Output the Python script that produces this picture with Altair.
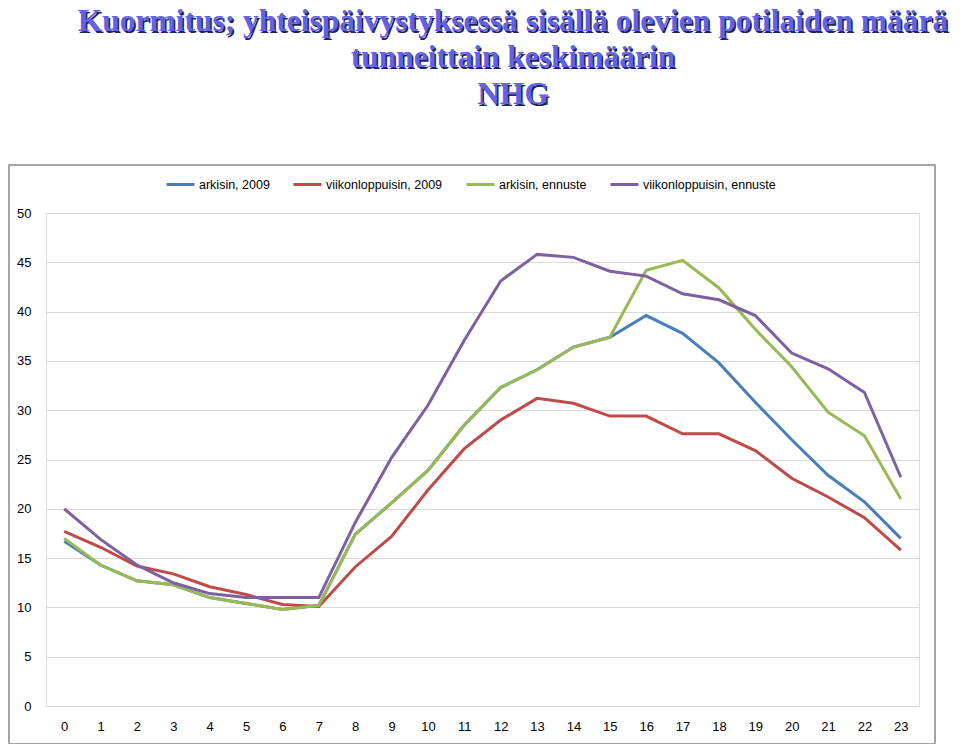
import altair as alt
import pandas as pd

hours = list(range(24))
series_names = ["arkisin, 2009", "viikonloppuisin, 2009", "arkisin, ennuste", "viikonloppuisin, ennuste"]
arkisin_2009 = [16.7, 14.3, 12.7, 12.3, 11.0, 10.4, 9.8, 10.2, 17.4, 20.6, 23.9, 28.5,
                32.3, 34.1, 36.4, 37.4, 39.6, 37.8, 34.8, 30.8, 27.0, 23.4, 20.7, 17.0]
viikonloppuisin_2009 = [17.7, 16.1, 14.2, 13.4, 12.1, 11.3, 10.3, 10.1, 14.1, 17.2, 21.9, 26.1,
                        29.0, 31.2, 30.7, 29.4, 29.4, 27.6, 27.6, 25.9, 23.1, 21.2, 19.1, 15.8]
arkisin_ennuste = [17.0, 14.3, 12.7, 12.3, 11.0, 10.4, 9.8, 10.2, 17.4, 20.6, 23.9, 28.5,
                   32.3, 34.1, 36.4, 37.4, 44.2, 45.2, 42.4, 38.2, 34.4, 29.8, 27.4, 21.0]
viikonloppuisin_ennuste = [20.0, 16.9, 14.3, 12.5, 11.4, 11.0, 11.0, 11.0, 18.6, 25.2, 30.5, 37.1,
                           43.1, 45.8, 45.5, 44.1, 43.6, 41.8, 41.2, 39.6, 35.8, 34.2, 31.8, 23.2]
colors = ["#4A7EBB", "#BE4B48", "#98B954", "#7D60A0"]
y_ticks = list(range(0, 51, 5))
title_lines = ["Kuormitus; yhteispäivystyksessä sisällä olevien potilaiden määrä",
               "tunneittain keskimäärin", "NHG"]

rows = []
for name, vals in zip(series_names, [arkisin_2009, viikonloppuisin_2009, arkisin_ennuste, viikonloppuisin_ennuste]):
    for h, v in zip(hours, vals):
        rows.append({"tunti": h, "sarja": name, "arvo": v})
df = pd.DataFrame(rows)

FONT = "Liberation Sans"

lines = alt.Chart(df).mark_line(strokeWidth=3).encode(
    x=alt.X("tunti:O", title=None, sort=hours,
            axis=alt.Axis(labelAngle=0, domain=False, ticks=False, labelPadding=14,
                          labelFont=FONT, labelFontSize=13, labelColor="#000000", grid=False)),
    y=alt.Y("arvo:Q", title=None, scale=alt.Scale(domain=[0, 50], nice=False),
            axis=alt.Axis(values=y_ticks, domain=False, ticks=False, labelPadding=15,
                          labelFont=FONT, labelFontSize=13, labelColor="#000000",
                          gridColor="#D9D9D9", gridWidth=1)),
    color=alt.Color("sarja:N", sort=series_names, title=None,
                    scale=alt.Scale(domain=series_names, range=colors),
                    legend=alt.Legend(orient="none", legendX=119, legendY=-44, direction="horizontal",
                                      symbolType="stroke", symbolStrokeWidth=3, symbolSize=784,
                                      labelFont=FONT, labelFontSize=12.5, labelColor="#000000",
                                      columnPadding=17, labelOffset=3)),
)

box_df = pd.DataFrame({"k": [0]})
box = alt.Chart(box_df).mark_rect(fill="transparent", stroke="#A6A6A6", strokeWidth=2).encode(
    x=alt.value(-37), x2=alt.value(889), y=alt.value(-48), y2=alt.value(531)
)

title_layers = []
title_y = [-182, -146, -109]
for line, ty in zip(title_lines, title_y):
    tdf = pd.DataFrame({"t": [line]})
    shadow = alt.Chart(tdf).mark_text(font="Liberation Serif", fontWeight="bold", fontSize=31.5,
                                      align="center", baseline="alphabetic", color="#22225A",
                                      dx=1.5, dy=1.5).encode(
        x=alt.value(467), y=alt.value(ty), text="t:N")
    main = alt.Chart(tdf).mark_text(font="Liberation Serif", fontWeight="bold", fontSize=31.5,
                                    align="center", baseline="alphabetic", color="#6262E4").encode(
        x=alt.value(467), y=alt.value(ty), text="t:N")
    title_layers += [shadow, main]

chart = alt.layer(box, lines, *title_layers).properties(
    width=873, height=493,
    autosize=alt.AutoSizeParams(type="none"),
    padding={"left": 38, "top": 205, "right": 33, "bottom": 38},
).configure_view(stroke=None).configure(background="white")

chart.save("out.html", embed_options={"renderer": "svg", "actions": False})
